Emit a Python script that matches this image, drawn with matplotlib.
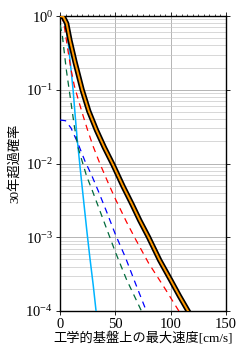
"""Hazard curves: 30-year exceedance probability vs peak velocity on engineering bedrock."""

import matplotlib
matplotlib.use("Agg")
import matplotlib.pyplot as plt
import numpy as np
from matplotlib.ticker import LogLocator, MultipleLocator, NullFormatter

plt.rcParams["font.family"] = ["Liberation Serif", "Noto Sans CJK JP"]
plt.rcParams["mathtext.fontset"] = "custom"
plt.rcParams["mathtext.rm"] = "Liberation Serif"
plt.rcParams["mathtext.it"] = "Liberation Serif:italic"
plt.rcParams["axes.unicode_minus"] = False

# Total hazard (black with orange core)
total_v = [0, 3, 6, 9, 13.5, 20, 26, 33, 40, 48, 57, 65, 72, 80, 90, 100, 108, 118]
total_logp = [0, -0.01, -0.1, -0.33, -0.62, -1.0, -1.29, -1.55, -1.78, -2.02,
              -2.31, -2.55, -2.77, -3.0, -3.31, -3.58, -3.8, -4.06]

# Red dashed
red_v = [0, 2, 4, 7, 10, 13, 17, 21, 25, 30, 36, 44, 50, 60, 68, 80, 95, 109]
red_logp = [0, -0.03, -0.15, -0.45, -0.73, -0.95, -1.16, -1.36, -1.55, -1.77,
            -2.0, -2.28, -2.48, -2.79, -3.02, -3.35, -3.7, -4.04]

# Dark green dashed
green_v = [0, 2, 3.6, 5.7, 9.6, 13, 16.3, 20, 24, 29, 37, 45, 50, 60, 72, 76]
green_logp = [-0.12, -0.25, -0.46, -0.73, -1.14, -1.5, -1.78, -1.97, -2.17, -2.36,
              -2.68, -3.0, -3.2, -3.57, -3.95, -4.08]

# Blue dashed
blue_v = [0, 5, 10, 16, 22.6, 28.6, 34.5, 42, 50, 59, 68, 78.5]
blue_logp = [-1.41, -1.42, -1.52, -1.72, -1.97, -2.16, -2.37, -2.65, -2.96,
             -3.27, -3.62, -4.02]

# Cyan solid
cyan_v = [0, 2, 4, 5.5, 7.2, 9.5, 11.8, 13.7, 15.6, 19.3, 22, 24.5, 27, 30, 33]
cyan_logp = [0, -0.02, -0.08, -0.17, -0.33, -0.66, -1.0, -1.35, -1.68, -2.22,
             -2.6, -2.95, -3.28, -3.65, -4.06]


def main() -> None:
    fig = plt.figure(figsize=(2.47, 3.57), dpi=100)
    ax = fig.add_axes([0.243, 0.129, 0.672, 0.826])

    dash = (0, (5, 4))
    ax.plot(cyan_v, 10 ** np.array(cyan_logp), color="#00b4ff", lw=1.1, zorder=3)
    ax.plot(blue_v, 10 ** np.array(blue_logp), color="#0000ff", lw=0.9, ls=dash, zorder=3)
    ax.plot(green_v, 10 ** np.array(green_logp), color="#006a3c", lw=0.9, ls=dash, zorder=3)
    ax.plot(red_v, 10 ** np.array(red_logp), color="#ff0000", lw=0.9, ls=dash, zorder=3)
    ax.plot(total_v, 10 ** np.array(total_logp), color="black", lw=3.8, zorder=4,
            solid_capstyle="butt", solid_joinstyle="round")
    ax.plot(total_v, 10 ** np.array(total_logp), color="#ff9900", lw=1.4, zorder=5,
            solid_capstyle="butt", solid_joinstyle="round")

    ax.set_yscale("log")
    ax.set_xlim(0, 150)
    ax.set_ylim(1e-4, 1)

    ax.xaxis.set_major_locator(MultipleLocator(50))
    ax.xaxis.set_minor_locator(MultipleLocator(5))
    ax.yaxis.set_major_locator(LogLocator(base=10, numticks=10))
    ax.yaxis.set_minor_locator(LogLocator(base=10, subs=np.arange(2, 10), numticks=20))
    ax.yaxis.set_minor_formatter(NullFormatter())

    ax.grid(True, which="major", color="#a8a8a8", lw=0.6)
    ax.grid(True, which="minor", axis="y", color="#c8c8c8", lw=0.5)
    ax.set_axisbelow(True)

    ax.tick_params(which="major", direction="out", length=3, width=0.6,
                   top=True, right=True, labelsize=10.5, pad=2)
    ax.tick_params(which="minor", direction="out", length=1.5, width=0.5,
                   top=True, bottom=False, right=False, left=False)
    for spine in ax.spines.values():
        spine.set_linewidth(1.0)

    ax.set_xlabel("工学的基盤上の最大速度[cm/s]", fontsize=9.5,
                  family=["Liberation Serif", "Noto Sans CJK JP"], labelpad=1)
    ax.set_ylabel("30年超過確率", fontsize=9.5,
                  family=["Liberation Serif", "Noto Sans CJK JP"], labelpad=3)

    fig.savefig("out.png", dpi=100)
    plt.close(fig)


if __name__ == "__main__":
    main()
